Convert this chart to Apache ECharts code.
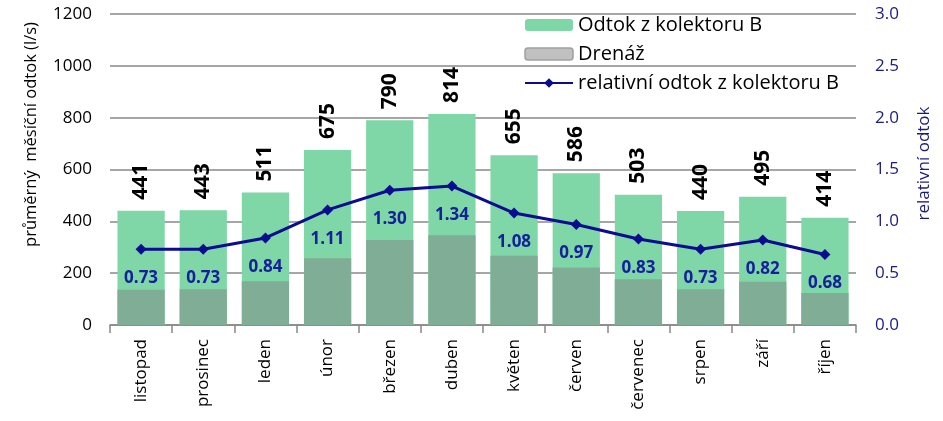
<!DOCTYPE html>
<html>
<head>
<meta charset="utf-8">
<script src="https://cdn.jsdelivr.net/npm/echarts@6/dist/echarts.min.js"></script>
<style>html,body{margin:0;padding:0;background:#fff}#c{width:943px;height:421px}</style>
</head>
<body>
<div id="c"></div>
<script>
const categories = ['listopad','prosinec','leden','únor','březen','duben','květen','červen','červenec','srpen','září','říjen'];
const odtokB = [441,443,511,675,790,814,655,586,503,440,495,414];
const drenaz = [136,138,169,258,328,346,267,222,177,138,167,123];
const relativni = [0.73,0.73,0.84,1.11,1.30,1.34,1.08,0.97,0.83,0.73,0.82,0.68];

const FONT = 'Open Sans';
const chart = echarts.init(document.getElementById('c'), null, {renderer:'canvas'});
chart.setOption({
  animation: false,
  textStyle: {fontFamily: FONT},
  grid: {left: 110, right: 87, top: 14, bottom: 96},
  legend: {
    orient: 'vertical', left: 519, top: 10, itemWidth: 48, itemHeight: 12, itemGap: 9,
    textStyle: {fontFamily: FONT, fontSize: 20, color: '#000'},
    data: [
      {name: 'Odtok z kolektoru B'},
      {name: 'Drenáž', itemStyle: {color: '#c0c0c0', borderColor: '#a0a0a0', borderWidth: 1.5}},
      {name: 'relativní odtok z kolektoru B'}
    ]
  },
  xAxis: {
    type: 'category', data: categories,
    axisLine: {lineStyle: {color: '#888', width: 1.5}},
    axisTick: {show: true, length: 8, lineStyle: {color: '#888', width: 1.5}},
    axisLabel: {rotate: 90, margin: 14, fontSize: 17, color: '#000', fontFamily: FONT}
  },
  yAxis: [
    {
      type: 'value', min: 0, max: 1200, interval: 200,
      name: 'průměrný  měsíční odtok (l/s)', nameLocation: 'middle', nameGap: 70, nameRotate: 90,
      nameTextStyle: {fontSize: 16.5, color: '#000', fontFamily: FONT, padding: [0,0,0,70]},
      axisLine: {show: false}, axisTick: {show: false},
      axisLabel: {fontSize: 17, color: '#000', margin: 18, fontFamily: FONT, formatter: v => String(v)},
      splitLine: {lineStyle: {color: '#888', width: 1.5}}
    },
    {
      type: 'value', min: 0, max: 3, interval: 0.5, position: 'right',
      name: 'relativní odtok', nameLocation: 'middle', nameGap: 60, nameRotate: 90,
      nameTextStyle: {fontSize: 17, color: '#1a1a80', fontFamily: FONT, padding: [0,0,0,12]},
      axisLine: {show: false}, axisTick: {show: false}, splitLine: {show: false},
      axisLabel: {fontSize: 17, color: '#1a1a80', margin: 19, fontFamily: FONT, formatter: v => v.toFixed(1)}
    }
  ],
  series: [
    {
      name: 'Odtok z kolektoru B', type: 'bar', data: odtokB, barWidth: '76%',
      itemStyle: {color: '#7fd6a6'},
      label: {show: true, position: 'top', rotate: 90, align: 'left', verticalAlign: 'middle', distance: 11,
        fontSize: 21, fontWeight: 'bold', color: '#000', fontFamily: FONT}
    },
    {
      name: 'Drenáž', type: 'bar', data: drenaz, barWidth: '76%', barGap: '-100%',
      itemStyle: {color: '#80ad95'}
    },
    {
      name: 'relativní odtok z kolektoru B', type: 'line', yAxisIndex: 1, data: relativni,
      symbol: 'diamond', symbolSize: 11, z: 5,
      lineStyle: {color: '#0c0c90', width: 3}, itemStyle: {color: '#0c0c90'},
      label: {show: true, position: 'bottom', distance: 15, fontSize: 17, fontWeight: 'bold',
        color: '#15219a', fontFamily: FONT, formatter: p => p.value.toFixed(2)}
    }
  ]
});
</script>
</body>
</html>
